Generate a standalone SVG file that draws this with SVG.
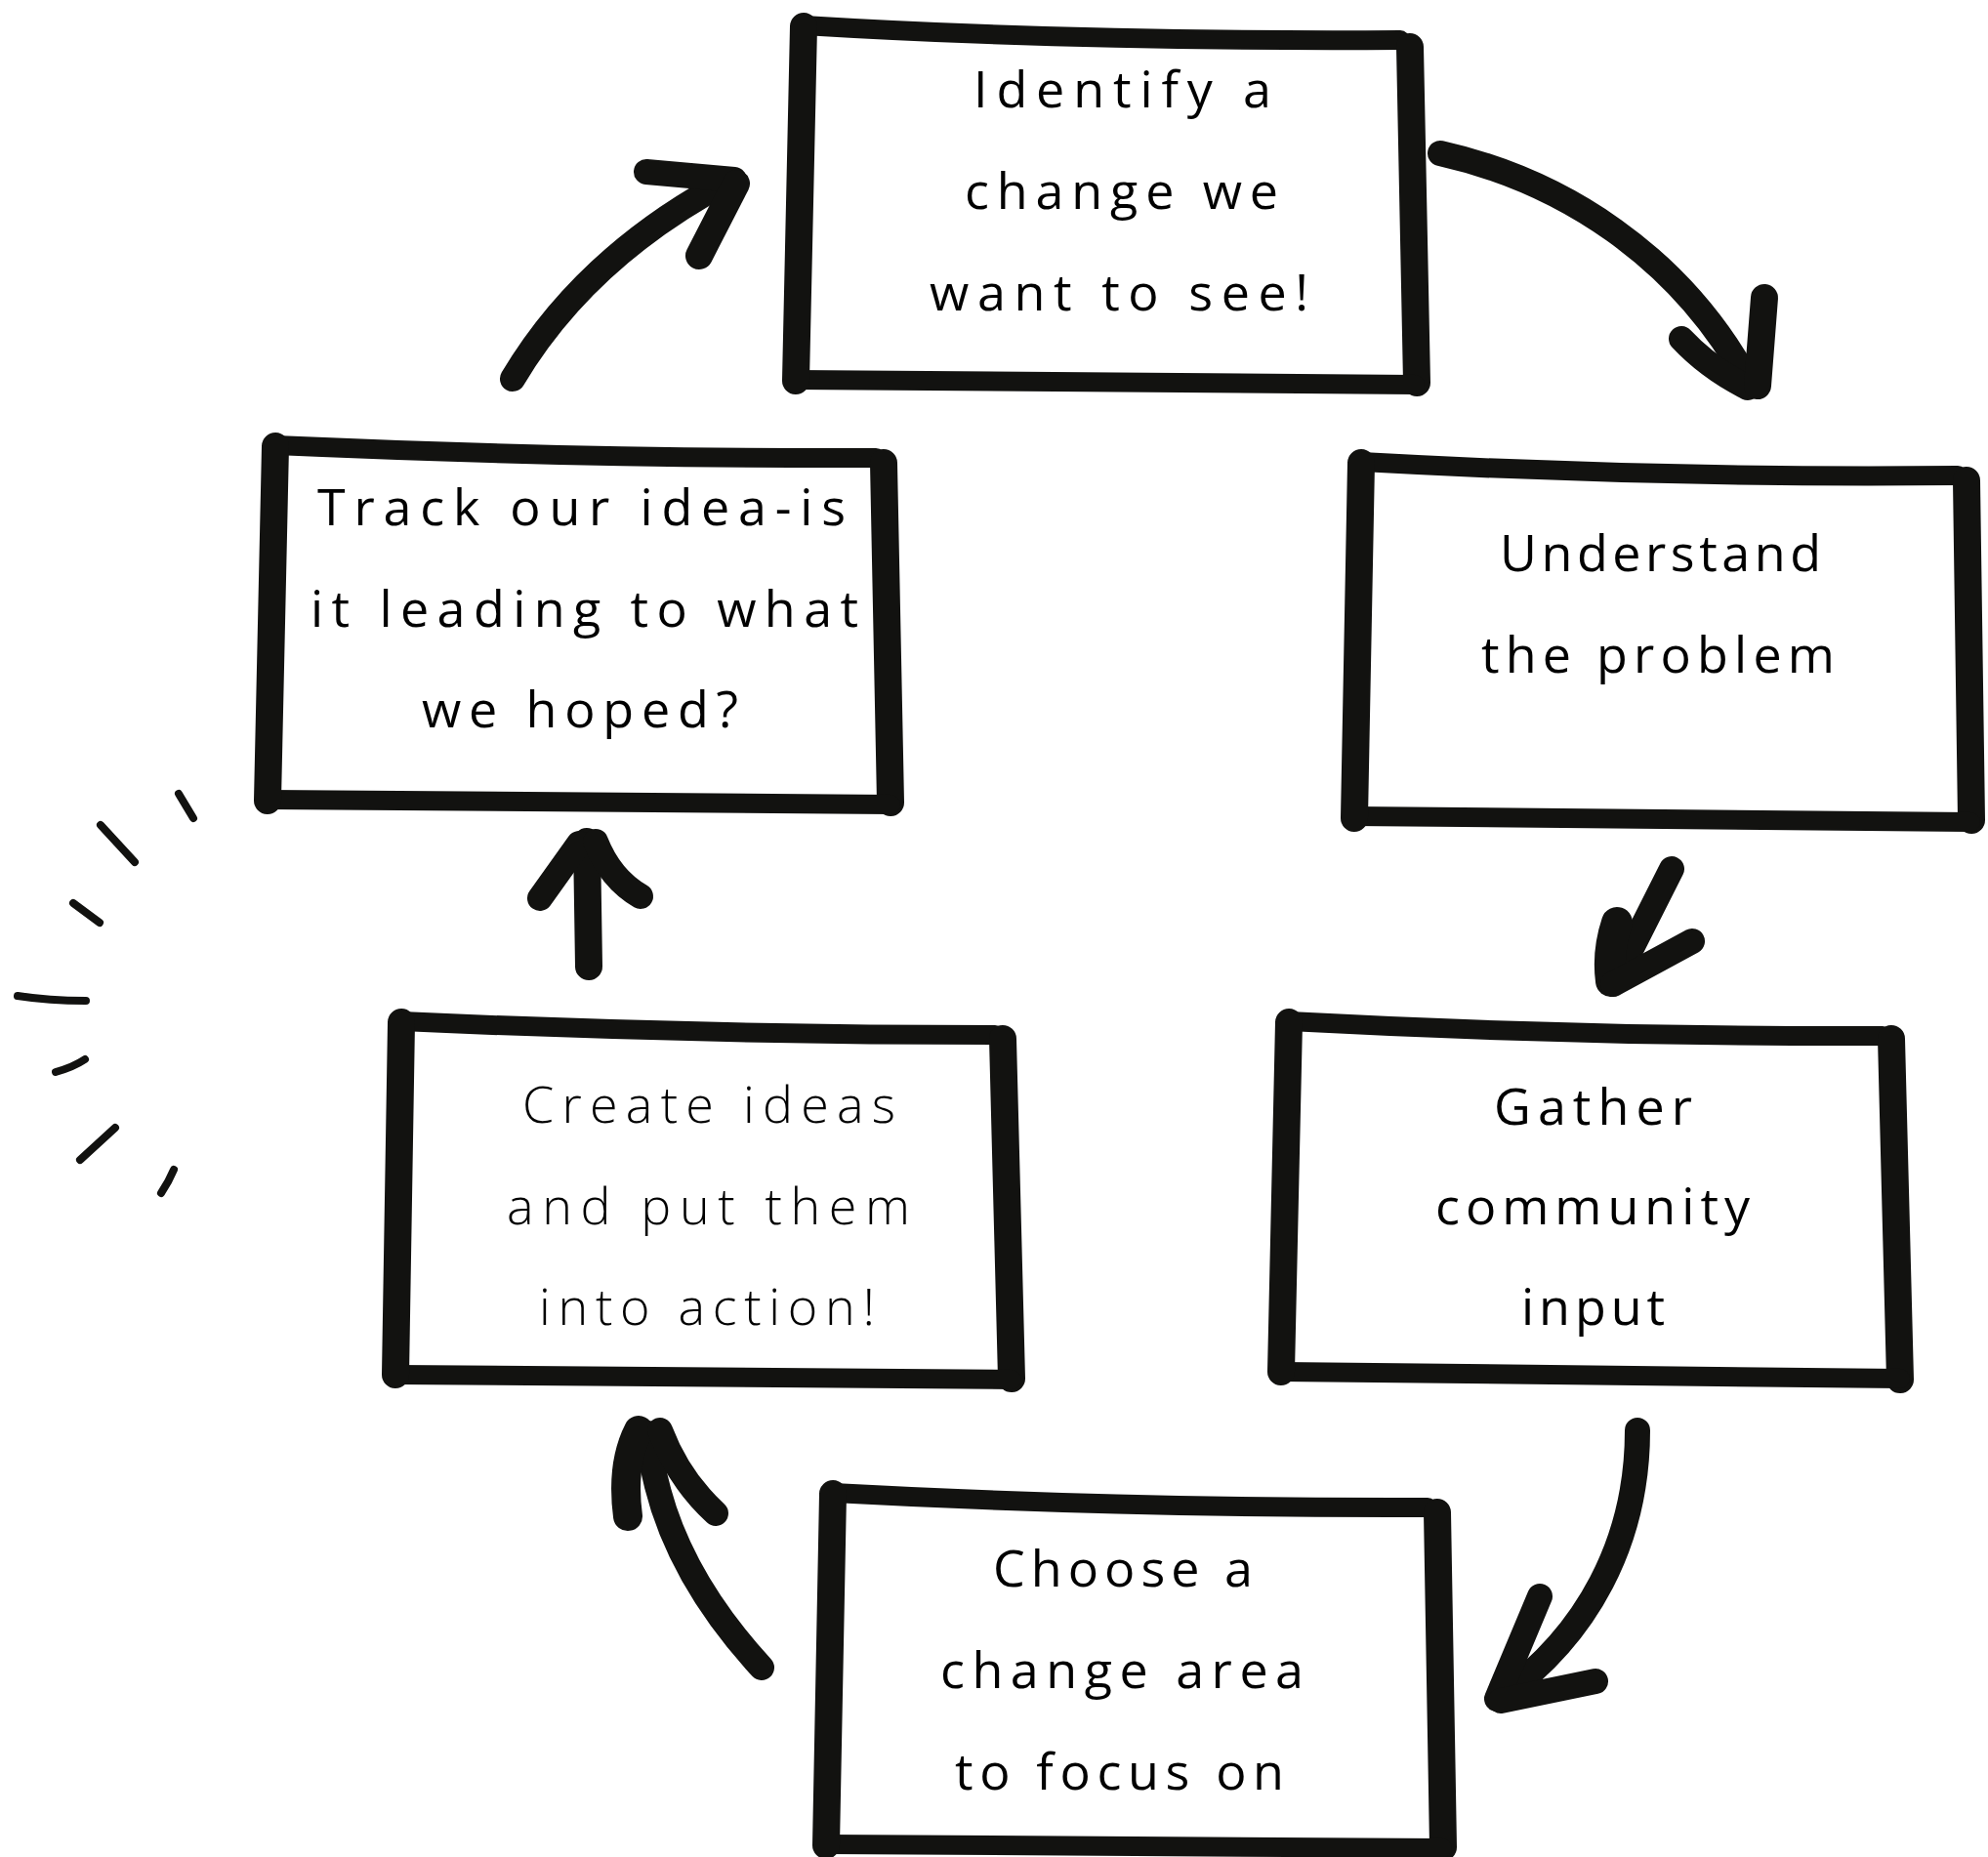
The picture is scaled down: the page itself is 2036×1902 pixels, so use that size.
<svg xmlns="http://www.w3.org/2000/svg" width="2036" height="1902" viewBox="0 0 2036 1902">
<style>
.h{fill:none;stroke:#121210;stroke-width:20;stroke-linecap:round;stroke-linejoin:round}
.v{fill:none;stroke:#121210;stroke-width:28;stroke-linecap:round;stroke-linejoin:round}
.a{fill:none;stroke:#121210;stroke-width:26;stroke-linecap:round;stroke-linejoin:round}
.t{fill:none;stroke:#121210;stroke-width:8;stroke-linecap:round}
.lbl{font-family:"Open Sans","Noto Sans",sans-serif;font-size:52px;fill:#000}
.lt{font-weight:300}
</style>
<rect width="2036" height="1902" fill="#fff"/>
<g id="node-identify">
<path class="h" d="M823,26 Q1100,43 1434,41"/>
<path class="v" d="M1444,48 L1451,392"/>
<path class="h" d="M815,389 L1449,394"/>
<path class="v" d="M823,27 L815,390"/>
<text class="lbl" x="997" y="110" textLength="305" lengthAdjust="spacing">Identify a</text>
<text class="lbl" x="988" y="214" textLength="321" lengthAdjust="spacing">change we</text>
<text class="lbl" x="952" y="318" textLength="388" lengthAdjust="spacing">want to see!</text>
</g>
<g id="node-understand">
<path class="h" d="M1394,473 Q1700,490 2005,487"/>
<path class="v" d="M2014,492 L2019,840"/>
<path class="h" d="M1387,836 L2018,842"/>
<path class="v" d="M1394,474 L1387,838"/>
<text class="lbl" x="1536" y="585" textLength="329" lengthAdjust="spacing">Understand</text>
<text class="lbl" x="1517" y="689" textLength="362" lengthAdjust="spacing">the problem</text>
</g>
<g id="node-track">
<path class="h" d="M282,456 Q600,470 897,469"/>
<path class="v" d="M905,474 L912,822"/>
<path class="h" d="M274,819 L912,824"/>
<path class="v" d="M282,457 L274,820"/>
<text class="lbl" x="325" y="538" textLength="541" lengthAdjust="spacing">Track our idea-is</text>
<text class="lbl" x="318" y="642" textLength="561" lengthAdjust="spacing">it leading to what</text>
<text class="lbl" x="432" y="745" textLength="324" lengthAdjust="spacing">we hoped?</text>
</g>
<g id="node-create">
<path class="h" d="M411,1046 Q720,1060 1019,1060"/>
<path class="v" d="M1027,1064 L1036,1412"/>
<path class="h" d="M405,1408 L1036,1413"/>
<path class="v" d="M411,1047 L405,1408"/>
<text class="lbl lt" x="535" y="1150" textLength="382" lengthAdjust="spacing">Create ideas</text>
<text class="lbl lt" x="519" y="1254" textLength="413" lengthAdjust="spacing">and put them</text>
<text class="lbl lt" x="552" y="1357" textLength="344" lengthAdjust="spacing">into action!</text>
</g>
<g id="node-gather">
<path class="h" d="M1320,1046 Q1620,1062 1928,1061"/>
<path class="v" d="M1937,1064 L1946,1413"/>
<path class="h" d="M1312,1405 L1946,1412"/>
<path class="v" d="M1320,1047 L1312,1405"/>
<text class="lbl" x="1530" y="1152" textLength="203" lengthAdjust="spacing">Gather</text>
<text class="lbl" x="1470" y="1254" textLength="322" lengthAdjust="spacing">community</text>
<text class="lbl" x="1558" y="1357" textLength="147" lengthAdjust="spacing">input</text>
</g>
<g id="node-choose">
<path class="h" d="M853,1529 Q1150,1545 1462,1544"/>
<path class="v" d="M1472,1549 L1478,1892"/>
<path class="h" d="M846,1889 L1477,1893"/>
<path class="v" d="M853,1530 L846,1890"/>
<text class="lbl" x="1017" y="1625" textLength="266" lengthAdjust="spacing">Choose a</text>
<text class="lbl" x="963" y="1729" textLength="372" lengthAdjust="spacing">change area</text>
<text class="lbl" x="978" y="1833" textLength="337" lengthAdjust="spacing">to focus on</text>
</g>
<g id="connectors">
<path class="a" d="M525,388 Q600,262 748,184"/>
<path class="a" d="M662,176 L752,184"/>
<path class="a" d="M754,188 L716,262" style="stroke-width:28"/>
<path class="a" d="M1475,157 C1600,185 1720,262 1790,390"/>
<path class="a" d="M1722,347 Q1750,377 1790,397"/>
<path class="a" d="M1807,305 L1800,395" style="stroke-width:28"/>
<path class="a" d="M1712,890 L1655,1003"/>
<path class="a" d="M1656,945 Q1646,975 1650,1005" style="stroke-width:32"/>
<path class="a" d="M1733,964 L1652,1008"/>
<path class="a" d="M1677,1465 C1677,1580 1625,1675 1537,1738"/>
<path class="a" d="M1577,1635 L1533,1740"/>
<path class="a" d="M1634,1722 L1537,1742"/>
<path class="a" d="M780,1708 C722,1645 672,1565 664,1468"/>
<path class="a" d="M643,1553 Q636,1500 654,1465" style="stroke-width:30"/>
<path class="a" d="M733,1550 Q695,1515 676,1465"/>
<path class="a" d="M603,990 L601,862" style="stroke-width:28"/>
<path class="a" d="M553,920 L593,864"/>
<path class="a" d="M656,918 Q625,900 610,862"/>
</g>
<g id="ticks">
<path class="t" d="M183,813 L198,838"/>
<path class="t" d="M103,845 L138,883"/>
<path class="t" d="M75,925 L102,945"/>
<path class="t" d="M18,1020 Q50,1025 88,1025"/>
<path class="t" d="M57,1098 Q75,1093 87,1085"/>
<path class="t" d="M82,1188 L118,1155"/>
<path class="t" d="M165,1222 Q173,1210 178,1198"/>
</g>
</svg>
